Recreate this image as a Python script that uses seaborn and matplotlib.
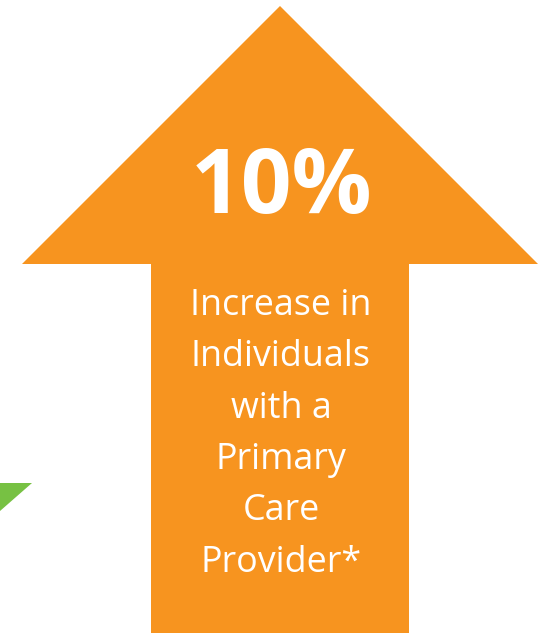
import matplotlib
matplotlib.use("Agg")
import matplotlib.pyplot as plt
from matplotlib.patches import Polygon
import seaborn as sns

# ---- data ----
increase_pct = [10]
label_lines = ["Increase in", "Individuals", "with a", "Primary", "Care", "Provider*"]

# arrow geometry (pixel units of the canvas)
arrow_tip = [280, 6]
head_x = [22, 538]
head_base_y = [264]
shaft_x = [151, 409]
green_tri_x = [0, 32, 0]
green_tri_y = [483, 483, 511]

ORANGE = "#F7941F"
GREEN = "#77C143"

sns.set_theme(style="white")
plt.rcParams['font.family'] = ['Open Sans', 'DejaVu Sans']

W, H = 551, 633
fig = plt.figure(figsize=(W / 100, H / 100), dpi=100)
ax = fig.add_axes([0, 0, 1, 1])
ax.set_xlim(0, W)
ax.set_ylim(H, 0)
ax.axis("off")

by = head_base_y[0]
verts = [
    (arrow_tip[0], arrow_tip[1]),
    (head_x[1], by),
    (shaft_x[1], by),
    (shaft_x[1], H),
    (shaft_x[0], H),
    (shaft_x[0], by),
    (head_x[0], by),
]
ax.add_patch(Polygon(verts, closed=True, facecolor=ORANGE, edgecolor="none"))
ax.add_patch(Polygon(list(zip(green_tri_x, green_tri_y)), closed=True,
                     facecolor=GREEN, edgecolor="none"))

cx = (shaft_x[0] + shaft_x[1]) / 2
ax.text(cx + 2, 213, f"{increase_pct[0]}%", color="white", fontsize=64,
        fontweight="bold", ha="center", va="baseline")

line_y0 = 315
line_step = 51.3
for i, line in enumerate(label_lines):
    ax.text(cx + 1, line_y0 + i * line_step, line, color="white", fontsize=25.8,
            ha="center", va="baseline")

fig.savefig("out.png", dpi=100)
